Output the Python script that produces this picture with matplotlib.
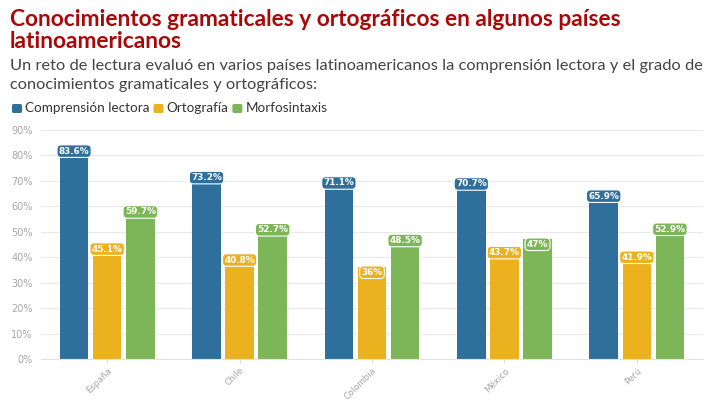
import matplotlib
matplotlib.use("Agg")
import matplotlib.pyplot as plt
import numpy as np

countries = ["España", "Chile", "Colombia", "México", "Perú"]
comprension = [83.6, 73.2, 71.1, 70.7, 65.9]
ortografia = [45.1, 40.8, 36, 43.7, 41.9]
morfosintaxis = [59.7, 52.7, 48.5, 47, 52.9]
series_names = ["Comprensión lectora", "Ortografía", "Morfosintaxis"]
colors = ["#2f6f9b", "#ebb11f", "#7db659"]

plt.rcParams["font.family"] = ["Lato", "DejaVu Sans"]

W, H = 720, 405
fig = plt.figure(figsize=(W / 100, H / 100), dpi=100)
ax = fig.add_axes([41 / W, 1 - 359 / H, 662 / W, 229 / H])


def fit_text(t, target_px):
    # scale the font so the text spans target_px pixels
    fig.canvas.draw()
    w = t.get_window_extent().width
    t.set_fontsize(t.get_fontsize() * target_px / w)


x = np.arange(len(countries))
width = 0.215
offsets = [-0.25, 0.0, 0.25]
for vals, off, col in zip([comprension, ortografia, morfosintaxis], offsets, colors):
    ax.bar(x + off, vals, width=width, color=col, zorder=2)
    for xi, v in zip(x, vals):
        ax.annotate(f"{v:g}%", (xi + off, v), xytext=(0, -3.5), textcoords="offset points",
                    ha="center", va="center", color="white", fontsize=6.4, fontweight="bold",
                    family="DejaVu Sans", zorder=4,
                    bbox=dict(boxstyle="round,pad=0.2,rounding_size=0.45", fc=col, ec="white", lw=0.8))

ax.set_xlim(-0.5, len(countries) - 0.5)
ax.set_ylim(0, 90)
ax.set_yticks(range(0, 91, 10))
ax.set_yticklabels([f"{t}%" for t in range(0, 91, 10)], color="#a6a6a6", fontsize=7,
                   family="DejaVu Sans")
ax.set_xticks(x)
ax.set_xticklabels(countries, rotation=45, ha="right", rotation_mode="anchor",
                   color="#a6a6a6", fontsize=6.3, family="DejaVu Sans")
ax.tick_params(axis="y", length=0, pad=6)
ax.tick_params(axis="x", length=3, color="#dddddd", pad=2)
ax.grid(axis="y", color="#e9e9e9", lw=0.8, zorder=0)
for s in ["top", "right", "left"]:
    ax.spines[s].set_visible(False)
ax.spines["bottom"].set_color("#e3e3e3")

t1 = fig.text(10 / W, 1 - 20 / H, "Conocimientos gramaticales y ortográficos en algunos países",
              color="#a80808", fontsize=14, fontweight="bold", va="center")
fit_text(t1, 615)
fig.text(10 / W, 1 - 42 / H, "latinoamericanos",
         color="#a80808", fontsize=t1.get_fontsize(), fontweight="bold", va="center")
s1 = fig.text(10 / W, 1 - 66 / H,
              "Un reto de lectura evaluó en varios países latinoamericanos la comprensión lectora y el grado de",
              color="#444444", fontsize=11, va="center")
fit_text(s1, 690)
fig.text(10 / W, 1 - 85 / H, "conocimientos gramaticales y ortográficos:",
         color="#444444", fontsize=s1.get_fontsize(), va="center")

# legend row
lx = 12
lfs = None
for name, col in zip(series_names, colors):
    fig.patches.append(matplotlib.patches.FancyBboxPatch(
        (lx / W, 1 - 113 / H), 10 / W, 9 / H, boxstyle="round,pad=0,rounding_size=0.003",
        transform=fig.transFigure, fc=col, ec="none"))
    t = fig.text((lx + 13) / W, 1 - 108.5 / H, name, color="#333333",
                 fontsize=lfs or 9.5, va="center")
    if lfs is None:
        fit_text(t, 124)
        lfs = t.get_fontsize()
    fig.canvas.draw()
    lx = t.get_window_extent().x1 + 4

fig.savefig("out.png", dpi=100)
